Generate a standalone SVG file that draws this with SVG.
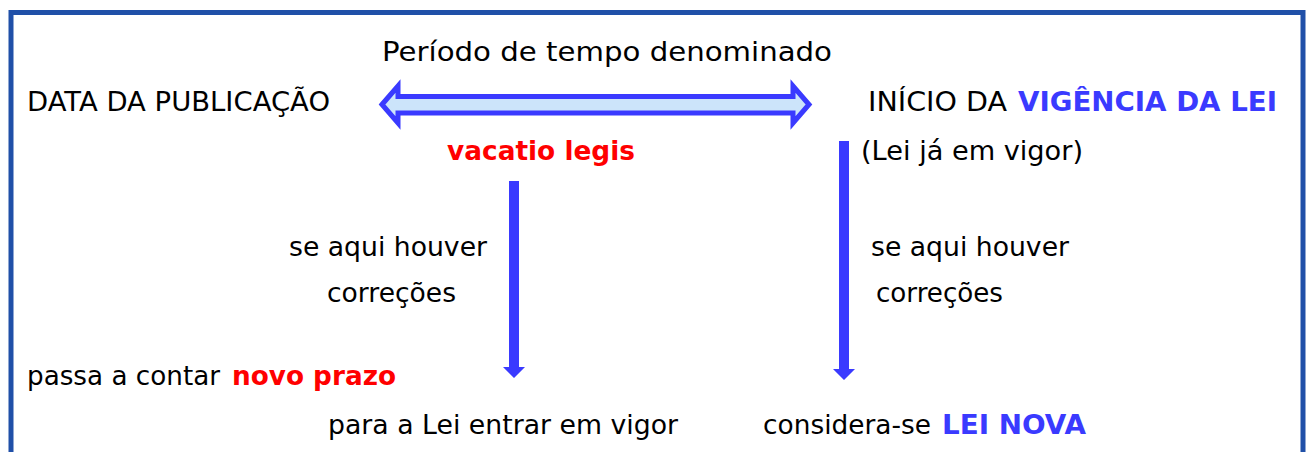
<svg xmlns="http://www.w3.org/2000/svg" width="1306" height="452" viewBox="0 0 1306 452">
<style>
text{font-family:"DejaVu Sans",Verdana,sans-serif;font-size:26px;fill:#000}
.b{font-weight:bold}
.red{fill:#ff0000}
.blue{fill:#3a3aff}
.arr{fill:#3a3aff;stroke:none}
</style>
<rect width="1306" height="452" fill="#fff"/>
<path d="M11,452 V12.5 H1303 V452" fill="none" stroke="#2050a8" stroke-width="5"/>
<g id="connectors">
<path id="double-arrow" d="M382,104.5 L398,86 L398,96.5 L793,96.5 L793,86 L809,104.5 L793,123 L793,113 L398,113 L398,123 Z" fill="#cce4fa" stroke="#3a3aff" stroke-width="5" stroke-linejoin="miter"/>
<path id="arrow-left" class="arr" d="M509,181 H519 V367 H525 L514,378 L503,367 H509 Z"/>
<path id="arrow-right" class="arr" d="M839,141 H849 V369 H855 L844,380 L833,369 H839 Z"/>
</g>
<g id="title"><text x="382" y="61" style="font-size:27px" textLength="450" lengthAdjust="spacingAndGlyphs">Período de tempo denominado</text></g>
<g id="data-publicacao"><text x="27" y="111" textLength="303" lengthAdjust="spacingAndGlyphs">DATA DA PUBLICAÇÃO</text></g>
<g id="inicio-vigencia"><text x="868" y="111" textLength="139" lengthAdjust="spacingAndGlyphs">INÍCIO DA</text><text x="1018" y="111" class="b blue" textLength="259" lengthAdjust="spacingAndGlyphs">VIGÊNCIA DA LEI</text></g>
<g id="vacatio"><text x="447" y="159.5" class="b red" textLength="188" lengthAdjust="spacingAndGlyphs">vacatio legis</text></g>
<g id="lei-vigor"><text x="861" y="160" textLength="222" lengthAdjust="spacingAndGlyphs">(Lei já em vigor)</text></g>
<g id="left-cond"><text x="289" y="256" textLength="198" lengthAdjust="spacingAndGlyphs">se aqui houver</text><text x="327" y="302" textLength="129" lengthAdjust="spacingAndGlyphs">correções</text></g>
<g id="right-cond"><text x="871" y="256" textLength="198" lengthAdjust="spacingAndGlyphs">se aqui houver</text><text x="876" y="302" textLength="127" lengthAdjust="spacingAndGlyphs">correções</text></g>
<g id="novo-prazo"><text x="27" y="385" textLength="193" lengthAdjust="spacingAndGlyphs">passa a contar</text><text x="232" y="385" class="b red" textLength="164" lengthAdjust="spacingAndGlyphs">novo prazo</text></g>
<g id="entrar-vigor"><text x="328" y="434" textLength="350" lengthAdjust="spacingAndGlyphs">para a Lei entrar em vigor</text></g>
<g id="lei-nova"><text x="763" y="434" textLength="168" lengthAdjust="spacingAndGlyphs">considera-se</text><text x="942" y="434" class="b blue" textLength="144" lengthAdjust="spacingAndGlyphs">LEI NOVA</text></g>
</svg>
